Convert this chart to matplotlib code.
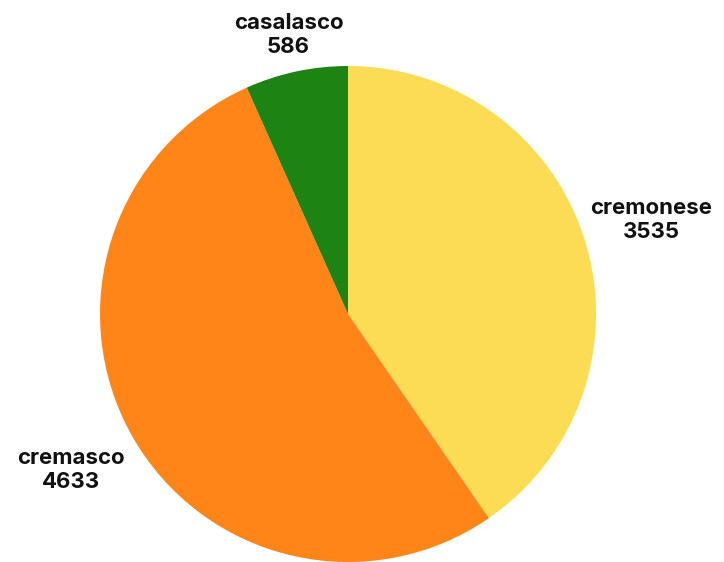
import numpy as np
import matplotlib
matplotlib.use("Agg")
import matplotlib.pyplot as plt

labels = ["cremonese", "cremasco", "casalasco"]
values = [3535, 4633, 586]
colors = ["#fcdb55", "#ff8518", "#1d8414"]
label_dist = [1.28, 1.28, 1.15]

plt.rcParams["font.family"] = ["Inter", "DejaVu Sans"]

fig = plt.figure(figsize=(7.24, 5.62), dpi=100)
# pie centred at about (348, 314) px with radius 248 px
ax = fig.add_axes([100 / 724, 0 / 562, 496 / 724, 496 / 562])

wedges, _ = ax.pie(values, colors=colors, startangle=90, counterclock=False,
                   wedgeprops=dict(linewidth=0))
ax.set_xlim(-1, 1)
ax.set_ylim(-1, 1)
ax.set_aspect("equal")
ax.axis("off")

for w, name, v, d in zip(wedges, labels, values, label_dist):
    ang = np.deg2rad((w.theta1 + w.theta2) / 2)
    x, y = d * np.cos(ang), d * np.sin(ang)
    ax.text(x, y, f"{name}\n{v}", ha="center", va="center", fontsize=16,
            fontweight="bold", color="#111111", linespacing=1.25, clip_on=False)

fig.savefig("out.png", dpi=100)
